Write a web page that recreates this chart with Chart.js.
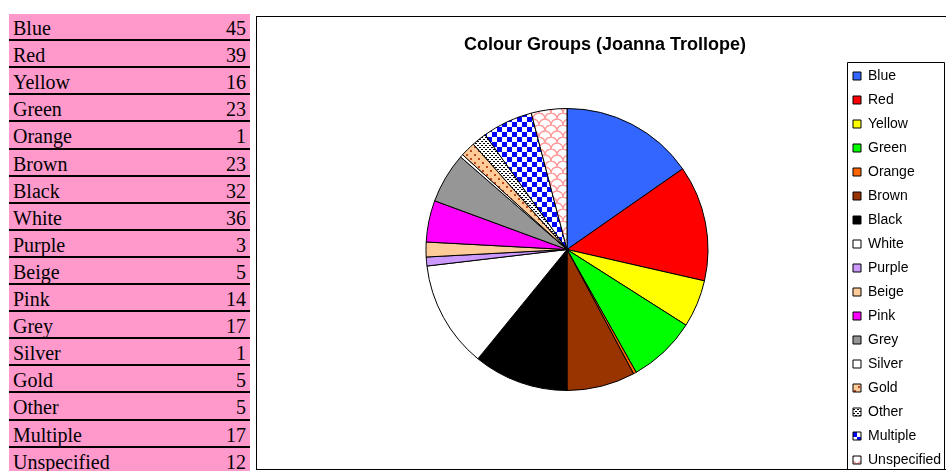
<!DOCTYPE html>
<html>
<head>
<meta charset="utf-8">
<script src="https://cdn.jsdelivr.net/npm/chart.js@4.4.0/dist/chart.umd.min.js"></script>
<style>
  html, body { margin: 0; padding: 0; background: #fff; width: 946px; height: 471px; overflow: hidden; }
  #sheet { position: absolute; left: 9px; top: 14px; width: 241px; }
  .row { position: absolute; left: 0; width: 241px; background: #FF99CC; border-bottom: 2px solid #000;
         box-sizing: border-box; font-family: "Liberation Serif", "Times New Roman", serif; font-size: 20px;
         line-height: 20px; color: #000; }
  .row .lab { position: absolute; left: 4px; top: 4px; }
  .row .val { position: absolute; right: 4px; top: 4px; }
  #box { position: absolute; left: 256px; top: 16px; width: 700px; height: 452px; border: 1px solid #000;
         overflow: hidden; background: #fff; }
  #chart { position: absolute; left: 0; top: 0; }
</style>
</head>
<body>
<div id="sheet"></div>
<div id="box"><canvas id="chart" width="689" height="464"></canvas></div>
<script>
// Colour groups and how many titles fall into each
const categories = ['Blue', 'Red', 'Yellow', 'Green', 'Orange', 'Brown', 'Black', 'White', 'Purple',
                    'Beige', 'Pink', 'Grey', 'Silver', 'Gold', 'Other', 'Multiple', 'Unspecified'];
const counts = [45, 39, 16, 23, 1, 23, 32, 36, 3, 5, 14, 17, 1, 5, 5, 17, 12];
const chartTitle = 'Colour Groups (Joanna Trollope)';

// Spreadsheet-style list of the data beside the chart
const sheet = document.getElementById('sheet');
categories.forEach((name, i) => {
  const top = Math.round(i * 27.1);
  const next = Math.round((i + 1) * 27.1);
  const row = document.createElement('div');
  row.className = 'row';
  row.style.top = top + 'px';
  row.style.height = (next - top) + 'px';
  const lab = document.createElement('span');
  lab.className = 'lab';
  lab.textContent = name;
  const val = document.createElement('span');
  val.className = 'val';
  val.textContent = counts[i];
  row.appendChild(lab);
  row.appendChild(val);
  sheet.appendChild(row);
});

const canvas = document.getElementById('chart');
const ctx = canvas.getContext('2d');

function makePattern(w, h, paint) {
  const c = document.createElement('canvas');
  c.width = w; c.height = h;
  paint(c.getContext('2d'));
  return ctx.createPattern(c, 'repeat');
}

// Hatched fills for the last few groups
const goldFill = makePattern(8, 8, g => {
  g.fillStyle = '#FFCC99'; g.fillRect(0, 0, 8, 8);
  g.fillStyle = '#C04A20';
  g.fillRect(1, 1, 2, 2); g.fillRect(5, 5, 2, 2);
});
const otherFill = makePattern(4, 4, g => {
  g.fillStyle = '#FFFFFF'; g.fillRect(0, 0, 4, 4);
  g.fillStyle = '#000000';
  g.fillRect(0, 0, 2, 1);
  g.fillRect(2, 2, 2, 1);
});
const multipleFill = makePattern(10, 10, g => {
  g.fillStyle = '#FFFFFF'; g.fillRect(0, 0, 10, 10);
  g.fillStyle = '#0000FF';
  g.fillRect(0, 0, 5, 5); g.fillRect(5, 5, 5, 5);
});
const unspecifiedFill = makePattern(12, 12, g => {
  g.fillStyle = '#FFFFFF'; g.fillRect(0, 0, 12, 12);
  g.strokeStyle = '#FF9999'; g.lineWidth = 1.4;
  g.beginPath(); g.arc(6, 6, 6, Math.PI, 0); g.stroke();
  g.beginPath(); g.arc(0, 12, 6, Math.PI * 1.5, 0); g.stroke();
  g.beginPath(); g.arc(12, 12, 6, Math.PI, Math.PI * 1.5); g.stroke();
});

const sliceFills = ['#3366FF', '#FF0000', '#FFFF00', '#00FF00', '#FF6600', '#993300', '#000000', '#FFFFFF',
                    '#CC99FF', '#FFCC99', '#FF00FF', '#969696', '#FFFFFF', goldFill, otherFill,
                    multipleFill, unspecifiedFill];

const FONT = 'Arial, "Liberation Sans", sans-serif';

// Chart heading, centred over the whole chart frame
const headingPlugin = {
  id: 'heading',
  afterDraw(chart) {
    const c = chart.ctx;
    c.save();
    c.font = 'bold 18px ' + FONT;
    c.fillStyle = '#000';
    c.textAlign = 'center';
    c.textBaseline = 'middle';
    c.fillText(chartTitle, 348, 28);
    c.restore();
  }
};

// Frame drawn around the legend
const legendFramePlugin = {
  id: 'legendFrame',
  afterDraw(chart) {
    const c = chart.ctx;
    c.save();
    c.strokeStyle = '#000';
    c.lineWidth = 1;
    c.beginPath();
    c.moveTo(590.5, 470);
    c.lineTo(590.5, 45.5);
    c.lineTo(687.5, 45.5);
    c.lineTo(687.5, 470);
    c.stroke();
    c.restore();
  }
};

new Chart(ctx, {
  type: 'pie',
  data: {
    labels: categories,
    datasets: [{
      data: counts,
      backgroundColor: sliceFills,
      borderColor: '#000000',
      borderWidth: 1,
      hoverOffset: 0,
      radius: 141
    }]
  },
  options: {
    responsive: false,
    animation: false,
    devicePixelRatio: 1,
    layout: { padding: { left: 34, right: 0, top: 5, bottom: 4 } },
    plugins: {
      legend: {
        position: 'right',
        align: 'end',
        maxWidth: 103,
        labels: {
          boxWidth: 8,
          boxHeight: 8,
          padding: 10,
          color: '#000',
          font: { family: FONT, size: 14 }
        }
      },
      tooltip: { enabled: false }
    }
  },
  plugins: [headingPlugin, legendFramePlugin]
});
</script>
</body>
</html>
